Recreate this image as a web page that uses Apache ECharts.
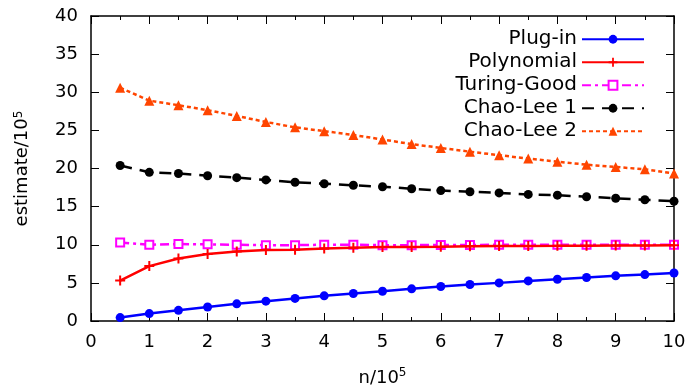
<!DOCTYPE html>
<html><head><meta charset="utf-8">
<script src="https://cdn.jsdelivr.net/npm/echarts@6/dist/echarts.min.js"></script>
<style>html,body{margin:0;padding:0;background:#fff}#c{width:691px;height:392px}</style>
</head><body><div id="c"></div>
<script>
const xs = [0.5,1,1.5,2,2.5,3,3.5,4,4.5,5,5.5,6,6.5,7,7.5,8,8.5,9,9.5,10];
const plugin = [0.45,0.97,1.4,1.83,2.25,2.6,2.96,3.3,3.6,3.9,4.22,4.52,4.78,5.0,5.26,5.48,5.7,5.92,6.09,6.3];
const polynomial = [5.3,7.2,8.2,8.8,9.1,9.3,9.35,9.5,9.6,9.7,9.72,9.75,9.8,9.82,9.85,9.86,9.88,9.9,9.9,9.92];
const turingGood = [10.3,10.0,10.1,10.05,10.0,9.95,9.95,10.0,10.0,9.95,9.95,9.97,9.97,10.0,10.0,10.0,10.0,10.0,10.0,10.0];
const chaoLee1 = [20.4,19.5,19.35,19.05,18.8,18.5,18.2,18.0,17.8,17.6,17.35,17.1,16.95,16.8,16.6,16.5,16.3,16.1,15.9,15.7];
const chaoLee2 = [30.6,28.9,28.3,27.65,26.9,26.1,25.4,24.9,24.4,23.8,23.2,22.7,22.2,21.75,21.3,20.9,20.5,20.2,19.9,19.35];
const seriesNames = ['Plug-in','Polynomial','Turing-Good','Chao-Lee 1','Chao-Lee 2'];
const xName = 'n/10';
const yName = 'estimate/10';

const FONT = 'DejaVu Sans';
const pairs = arr => xs.map((x,i)=>[x,arr[i]]);
const plusPath = 'path://M4,0h2v4h4v2h-4v4h-2v-4h-4v-2h4z';

const axisCommon = {
  axisLine:{show:true,onZero:false,lineStyle:{color:'#000',width:1.5}},
  splitLine:{show:false}
};
const chart = echarts.init(document.getElementById('c'));
chart.setOption({
  animation:false,
  backgroundColor:'#fff',
  grid:{left:91,right:17,top:16,bottom:71,containLabel:false},
  legend:{
    right:41, top:24, orient:'vertical', align:'right',
    itemWidth:62, itemHeight:11, itemGap:2.5,
    textStyle:{fontFamily:FONT,fontSize:20,color:'#000',lineHeight:20.5},
    data:seriesNames
  },
  xAxis:[
    Object.assign({type:'value',min:0,max:10,interval:1,position:'bottom',
      name:xName+'{s|5}',nameLocation:'middle',nameGap:46,
      nameTextStyle:{fontFamily:FONT,fontSize:18,color:'#000',rich:{s:{fontFamily:FONT,fontSize:12,verticalAlign:'top',padding:[0,0,10,0]}}},
      axisTick:{show:true,inside:true,length:8,lineStyle:{color:'#000'}},
      minorTick:{show:true,splitNumber:2,length:4,lineStyle:{color:'#000'}},
      axisLabel:{fontFamily:FONT,fontSize:18,color:'#000',margin:12}
    },axisCommon),
    Object.assign({type:'value',min:0,max:10,interval:1,position:'top',
      axisTick:{show:true,inside:true,length:8,lineStyle:{color:'#000'}},
      minorTick:{show:true,splitNumber:2,length:4,lineStyle:{color:'#000'}},
      axisLabel:{show:false}
    },axisCommon)
  ],
  yAxis:[
    Object.assign({type:'value',min:0,max:40,interval:5,position:'left',
      name:yName+'{s|5}',nameLocation:'middle',nameGap:60,nameRotate:90,
      nameTextStyle:{fontFamily:FONT,fontSize:18,color:'#000',rich:{s:{fontFamily:FONT,fontSize:12,verticalAlign:'top'}}},
      axisTick:{show:true,inside:true,length:8,lineStyle:{color:'#000'}},
      axisLabel:{fontFamily:FONT,fontSize:18,color:'#000',margin:13}
    },axisCommon),
    Object.assign({type:'value',min:0,max:40,interval:5,position:'right',
      axisTick:{show:true,inside:true,length:8,lineStyle:{color:'#000'}},
      axisLabel:{show:false}
    },axisCommon)
  ],
  series:[
    {name:seriesNames[0],type:'line',data:pairs(plugin),symbol:'circle',symbolSize:9,
      lineStyle:{color:'#0000ff',width:2.5},itemStyle:{color:'#0000ff'},z:5},
    {name:seriesNames[1],type:'line',data:pairs(polynomial),symbol:plusPath,symbolSize:10,
      lineStyle:{color:'#ff0000',width:2.5},itemStyle:{color:'#ff0000'},z:4},
    {name:seriesNames[2],type:'line',data:pairs(turingGood),symbol:'emptyRect',symbolSize:8,
      lineStyle:{color:'#ff00ff',width:2.5,type:[9,4,3,4]},itemStyle:{color:'#ff00ff',borderWidth:2},z:3},
    {name:seriesNames[3],type:'line',data:pairs(chaoLee1),symbol:'circle',symbolSize:9,
      lineStyle:{color:'#000000',width:2.5,type:[12,8]},itemStyle:{color:'#000000'},z:3},
    {name:seriesNames[4],type:'line',data:pairs(chaoLee2),symbol:'triangle',symbolSize:10,
      lineStyle:{color:'#ff4500',width:2.5,type:[4,3]},itemStyle:{color:'#ff4500'},z:3}
  ]
});
</script></body></html>
